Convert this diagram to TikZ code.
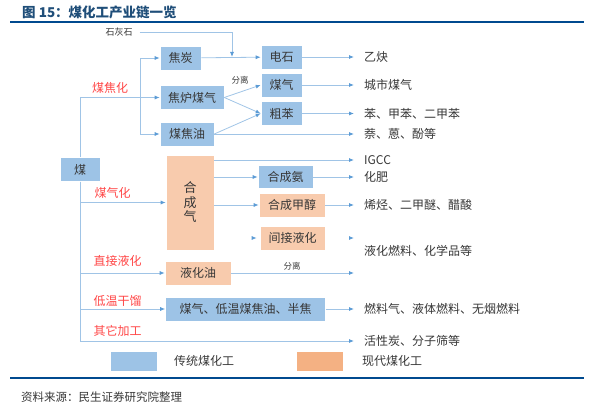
\documentclass[tikz,border=0pt]{standalone}
\usepackage{fontspec}
\setmainfont{Noto Sans CJK SC}
\usetikzlibrary{arrows.meta,positioning,calc}
\definecolor{MhBlue}{RGB}{157,195,230}
\definecolor{MhPeach}{RGB}{248,203,173}
\definecolor{MhOrange}{RGB}{244,177,131}
\definecolor{MhLine}{RGB}{160,196,230}
\definecolor{MhTip}{RGB}{91,155,213}
\definecolor{MhRed}{RGB}{255,70,70}
\definecolor{MhNavy}{RGB}{0,74,143}
\definecolor{MhTitle}{RGB}{31,78,121}
\definecolor{MhText}{RGB}{55,55,55}
\tikzset{
  mh/box/.style={
    fill=MhBlue,
    draw=white,
    line width=0.6pt,
    align=center,
    text=MhText,
    inner sep=0pt,
    minimum height=24pt,
    font=\fontsize{12}{14}\selectfont
  },
  mh/modern/.style={mh/box, fill=MhPeach},
  mh/arrow/.style={-{Latex[length=5pt,width=4pt,color=MhTip]}, line width=0.8pt, draw=MhLine},
  mh/route/.style={font=\fontsize{12}{14}\selectfont, text=MhRed},
  mh/product/.style={anchor=west, inner xsep=10pt, inner ysep=0pt, text=MhText, font=\fontsize{12}{14}\selectfont},
  mh/tinylabel/.style={font=\fontsize{8.5}{10}\selectfont, text=MhText},
  mh/legend/.style={minimum width=46pt, minimum height=19pt, inner sep=0pt}
}
\begin{document}
\begin{tikzpicture}[x=1pt,y=-1pt]
  \useasboundingbox (0,0) rectangle (599,409);
  % title and rules
  \node[anchor=west, inner sep=0pt, text=MhTitle, font=\fontsize{13.5}{16}\selectfont\bfseries] (title) at (22,12) {图 15：煤化工产业链一览};
  \draw[MhNavy, line width=2.5pt] (10,22) -- (584,22);
  \draw[MhNavy, line width=2.5pt] (10,378) -- (584,378);
  \node[anchor=west, inner sep=0pt, text=MhText, font=\fontsize{11.5}{14}\selectfont] (source) at (21,397) {资料来源：民生证券研究院整理};
  % boxes
  \node[mh/box,minimum width=40pt] (coal) at (80,169.5) {煤};
  \node[mh/box,minimum width=41pt] (coke) at (180.5,58) {焦炭};
  \node[mh/box,minimum width=64pt] (cogas) at (192,97.5) {焦炉煤气};
  \node[mh/box,minimum width=54pt] (tar) at (187,134) {煤焦油};
  \node[mh/box,minimum width=41pt] (carbide) at (281.5,57) {电石};
  \node[mh/box,minimum width=41pt] (gas) at (281.5,85) {煤气};
  \node[mh/box,minimum width=41pt] (benzene) at (281.5,113.5) {粗苯};
  \node[mh/modern,minimum width=48pt,minimum height=95pt,font=\fontsize{13}{14.5}\selectfont] (syngas) at (190,202.5) {合\\成\\气};
  \node[mh/box,minimum width=55pt,minimum height=23pt] (ammonia) at (285.5,177) {合成氨};
  \node[mh/modern,minimum width=66pt] (methanol) at (292,205) {合成甲醇};
  \node[mh/modern,minimum width=65pt] (indirect) at (292.5,238) {间接液化};
  \node[mh/modern,minimum width=66pt] (liqoil) at (198,273) {液化油};
  \node[mh/box,minimum width=160pt] (lowtemp) at (245.5,309) {煤气、低温煤焦油、半焦};
  % products
  \node[mh/product] (acetylene) at (354,57) {乙炔};
  \node[mh/product] (towngas) at (354,85) {城市煤气};
  \node[mh/product] (aromatics) at (354,113.5) {苯、甲苯、二甲苯};
  \node[mh/product] (naphth) at (354,134) {萘、蒽、酚等};
  \node[mh/product] (igcc) at (354,160) {IGCC};
  \node[mh/product] (fert) at (354,177) {化肥};
  \node[mh/product] (olefin) at (354,205) {烯烃、二甲醚、醋酸};
  \node[mh/product] (liqfuel) at (354,251) {液化燃料、化学品等};
  \node[mh/product] (fuel) at (354,309) {燃料气、液体燃料、无烟燃料};
  \node[mh/product] (carbon) at (354,341) {活性炭、分子筛等};
  \node[text=MhText, font=\fontsize{9}{11}\selectfont, inner sep=0pt] (lime) at (119,32) {石灰石};
  % route labels
  \node[mh/route] (coking) at (110,88) {煤焦化};
  \node[mh/route] (gasify) at (112.5,192.5) {煤气化};
  \node[mh/route] (direct) at (117.5,261) {直接液化};
  \node[mh/route] (lowtemplbl) at (117.5,300.5) {低温干馏};
  \node[mh/route] (other) at (117.5,330.5) {其它加工};
  % trunk
  \coordinate (fork) at (140,97.5);
  \coordinate (limejoin) at (232,57);
  \draw[mh/arrow] (coal) |- (cogas);
  \draw[mh/arrow] (coal) |- (syngas);
  \draw[mh/arrow] (coal) |- (liqoil);
  \draw[mh/arrow] (coal) |- (lowtemp);
  \draw[mh/arrow] (coal) |- (carbon);
  \draw[mh/arrow] (fork) |- (coke);
  \draw[mh/arrow] (fork) |- (tar);
  % coking
  \draw[mh/arrow] (coke) -- (carbide);
  \draw[mh/arrow,shorten <=7pt] (lime) -| (limejoin);
  \draw[mh/arrow] (cogas.east) -- (gas.west);
  \draw[mh/arrow] (cogas.east) -- (benzene.west);
  \draw[mh/arrow] (tar.east) -- (benzene.west);
  \node[mh/tinylabel] (sep1) at (240,80) {分离};
  \draw[mh/arrow] (carbide) -- (acetylene);
  \draw[mh/arrow] (gas) -- (towngas);
  \draw[mh/arrow] (benzene) -- (aromatics);
  \draw[mh/arrow] (tar) -- (naphth);
  % gasification
  \draw[mh/arrow] (igcc -| syngas.east) -- (igcc);
  \draw[mh/arrow] (ammonia -| syngas.east) -- (ammonia);
  \draw[mh/arrow] (methanol -| syngas.east) -- (methanol);
  \draw[mh/arrow] (ammonia) -- (fert);
  \draw[mh/arrow] (methanol) -- (olefin);
  \draw[mh/arrow,draw=white] ([xshift=-9pt]indirect.west) -- ([xshift=-3pt]indirect.west);
  \draw[mh/arrow,draw=white] (indirect.east) -- (indirect.east -| igcc.west);
  % liquefaction, low temperature
  \draw[mh/arrow] (liqoil) -- (liqoil -| igcc.west);
  \node[mh/tinylabel] (sep2) at (292,266) {分离};
  \draw[mh/arrow] (lowtemp) -- (fuel);
  % legend
  \node[mh/legend,fill=MhBlue] (legold) at (134,361.5) {};
  \node[text=MhText, font=\fontsize{12}{14}\selectfont] (legoldtxt) at (204,361) {传统煤化工};
  \node[mh/legend,fill=MhOrange] (legnew) at (320,361.5) {};
  \node[text=MhText, font=\fontsize{12}{14}\selectfont] (legnewtxt) at (392,361) {现代煤化工};
\end{tikzpicture}
\end{document}
